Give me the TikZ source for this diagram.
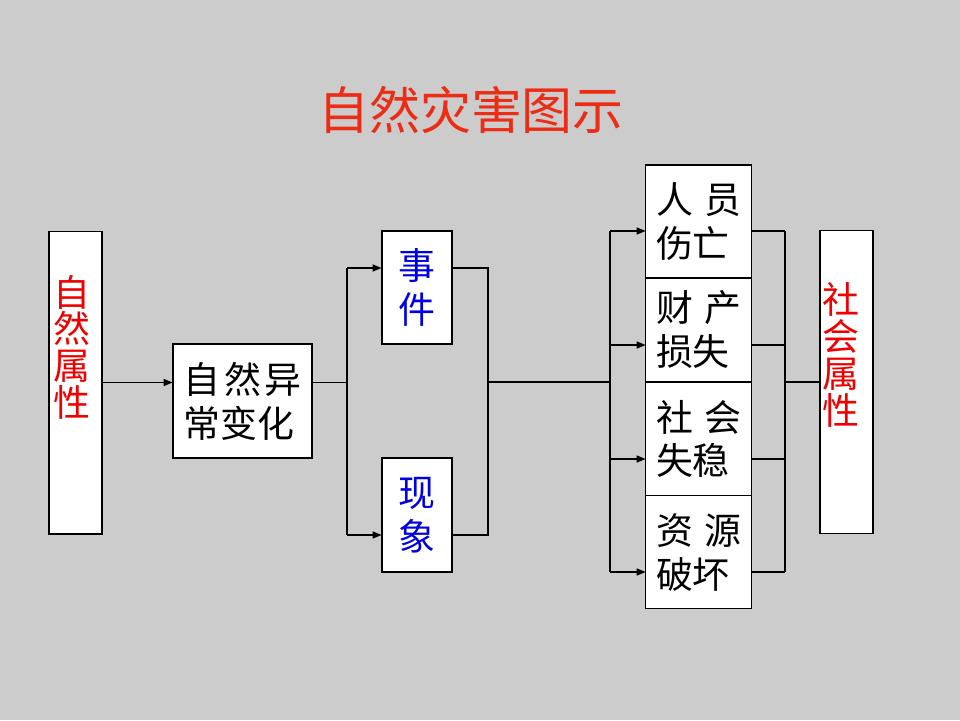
\documentclass[tikz,border=0pt]{standalone}
\usepackage{fontspec}
\newfontfamily\zh{Noto Sans CJK SC}
\usepackage{tikz}
\usetikzlibrary{arrows.meta,calc,positioning}
\definecolor{slidegray}{RGB}{204,204,204}
\definecolor{titlered}{RGB}{236,44,20}
\definecolor{attrred}{RGB}{240,0,0}
\definecolor{evblue}{RGB}{0,0,230}
\newcommand{\zg}{\kern.3em}

\begin{document}
\begin{tikzpicture}[x=0.02cm,y=-0.02cm,line width=0.6pt,
  blk/.style={draw,fill=white,inner sep=0pt,align=left,font=\zh\fontsize{21}{25}\selectfont},
  attr/.style={blk,minimum width=1.06cm,minimum height=6.06cm},
  vtxt/.style={inner sep=0pt,align=center,text=attrred,font=\zh\fontsize{21}{21}\selectfont},
  loss/.style={blk,outer sep=0pt,minimum width=2.12cm,minimum height=#1},
  arr/.style={-{Triangle[length=5pt,width=4pt]}}]
  \fill[slidegray] (0,0) rectangle (960,720);
  \useasboundingbox (0,0) rectangle (960,720);
  \node[font=\zh\fontsize{29}{29}\selectfont,text=titlered] (title) at (471,110) {自然灾害图示};
  % left side
  \node[attr,label={[vtxt,anchor=north,xshift=-0.08cm,yshift=-0.88cm]north:{自\\然\\属\\性}}] (nat) at (75.5,382.5) {};
  \node[blk,minimum width=2.78cm,minimum height=2.28cm] (chg) at (242.5,401) {自\kern.1em 然\kern.1em 异\\常变化};
  \node[blk,text=evblue,minimum width=1.4cm,minimum height=2.26cm] (evt) at (417,287.5) {事\\件};
  \node[blk,text=evblue,minimum width=1.4cm,minimum height=2.28cm] (phe) at (417,515) {现\\象};
  % consequences
  \node[loss=2.26cm] (c1) at (698.5,221.5) {人\zg 员\\伤亡};
  \node[loss=2.08cm,below=0pt of c1] (c2) {财\zg 产\\损失};
  \node[loss=2.28cm,below=0pt of c2] (c3) {社\zg 会\\失稳};
  \node[loss=2.26cm,below=0pt of c3] (c4) {资\zg 源\\破坏};
  \node[attr,label={[vtxt,anchor=north,xshift=-0.12cm,yshift=-1.04cm]north:{社\\会\\属\\性}}] (soc) at (846.5,382) {};
  % connectors
  \coordinate (f1) at (347,268);
  \coordinate (f2) at (347,535);
  \coordinate (m1) at (488,268);
  \coordinate (m2) at (488,535);
  \draw[arr] (nat.east) -- (nat.east -| chg.west);
  \draw (chg.east |- nat.east) -- (f1 |- nat.east);
  \draw (f1) -- (f2);
  \draw[arr] (f1) -- (f1 -| evt.west);
  \draw[arr] (f2) -- (f2 -| phe.west);
  \draw (m1 -| evt.east) -- (m1) -- (m2) -- (m2 -| phe.east);
  \foreach \b/\y [count=\i] in {c1/231,c2/345,c3/459,c4/572}{
    \coordinate (t\i) at (610,\y);
    \coordinate (o\i) at (785,\y);
    \draw[arr] (t\i) -- (t\i -| \b.west);
    \draw (o\i -| \b.east) -- (o\i);
  }
  \draw (t1) -- (t4);
  \draw (o1) -- (o4);
  \draw (m1 |- soc.west) -- (t1 |- soc.west);
  \draw (o1 |- soc.west) -- (soc.west);
\end{tikzpicture}
\end{document}
